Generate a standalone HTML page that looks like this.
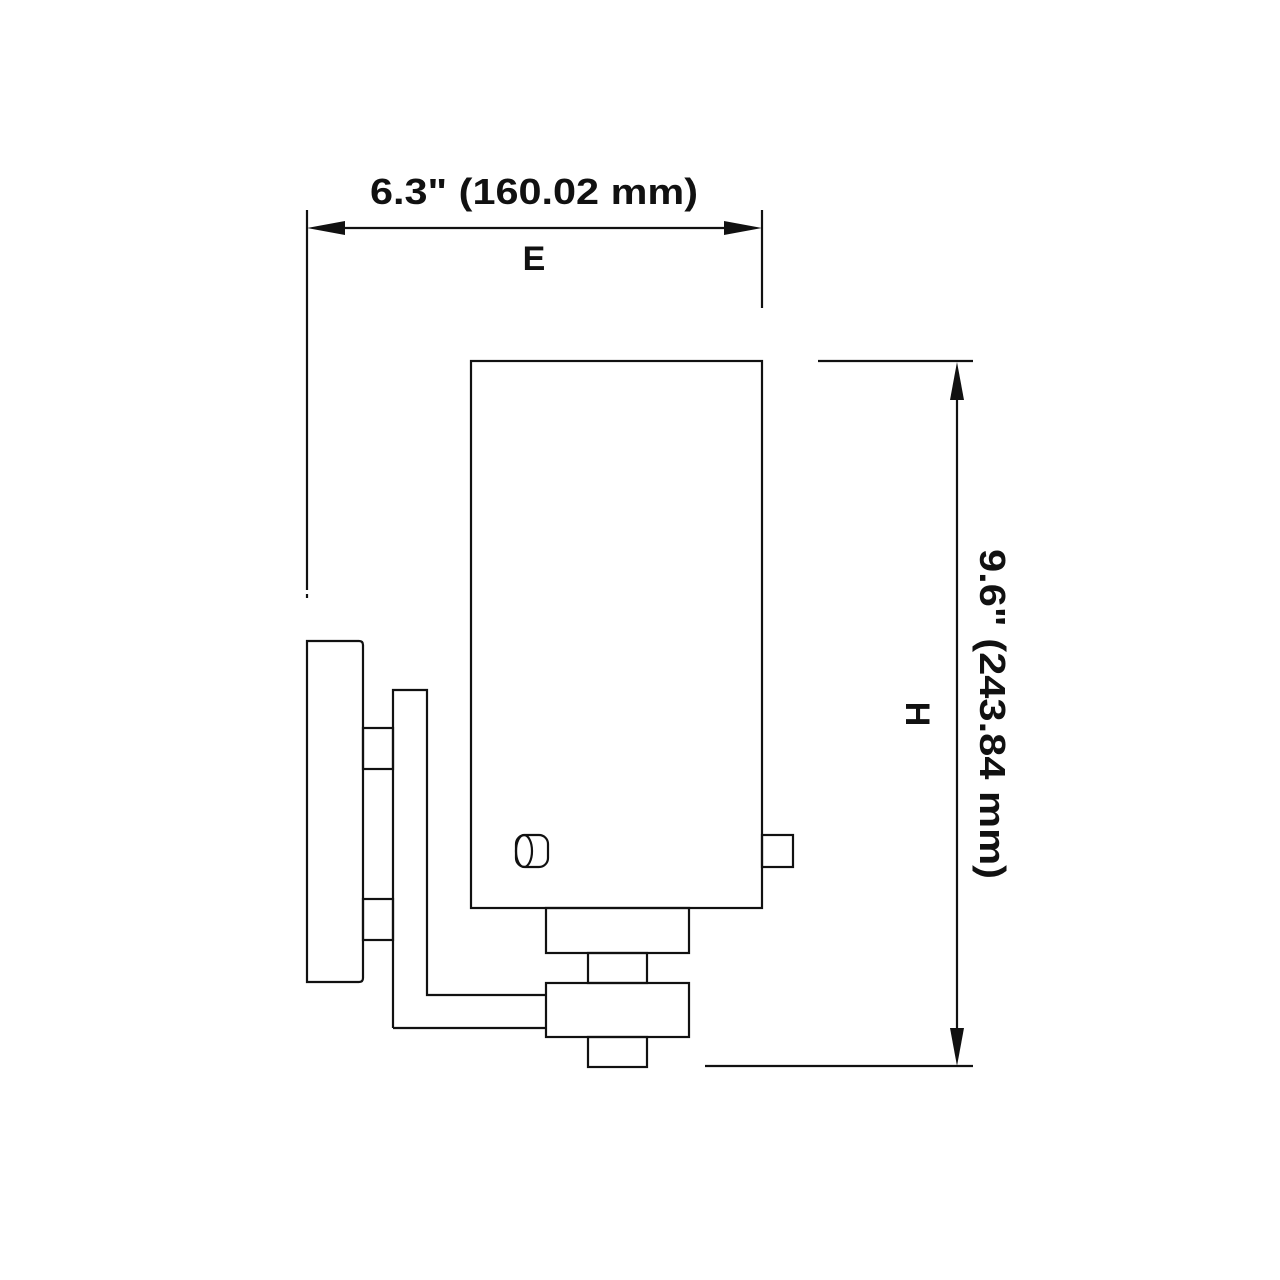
<!DOCTYPE html>
<html><head><style>body{margin:0;background:#fff}svg{display:block}</style></head><body>
<svg width="1280" height="1280" viewBox="0 0 1280 1280" xmlns="http://www.w3.org/2000/svg">
<g fill="none" stroke="#111" stroke-width="2.2">
<!-- dimension E -->
<line x1="307" y1="210" x2="307" y2="590"/>
<line x1="307" y1="594" x2="307" y2="598"/>
<line x1="762" y1="210" x2="762" y2="308"/>
<line x1="320" y1="228" x2="750" y2="228"/>
<!-- dimension H -->
<line x1="818" y1="361" x2="973" y2="361"/>
<line x1="705" y1="1066" x2="973" y2="1066"/>
<line x1="957" y1="380" x2="957" y2="1050"/>
<!-- shade -->
<rect x="471" y="361" width="291" height="547"/>
<rect x="762" y="835" width="31" height="32"/>
<!-- knob -->
<rect x="516" y="835" width="32" height="32" rx="9"/>
<ellipse cx="524" cy="851" rx="8" ry="16"/>
<!-- backplate -->
<path d="M307 641 H359 Q363 641 363 645 V978 Q363 982 359 982 H307 Z"/>
<rect x="363" y="728" width="30" height="41"/>
<rect x="363" y="899" width="30" height="41"/>
<!-- arm -->
<path d="M393 1028 V690 H427 V995 H546"/>
<line x1="393" y1="1028" x2="546" y2="1028"/>
<!-- blocks -->
<rect x="546" y="908" width="143" height="45"/>
<rect x="588" y="953" width="59" height="30"/>
<rect x="546" y="983" width="143" height="54"/>
<rect x="588" y="1037" width="59" height="30"/>
</g>
<g fill="#111">
<polygon points="307,228 345,221 345,235"/>
<polygon points="762,228 724,221 724,235"/>
<polygon points="957,362 950,400 964,400"/>
<polygon points="957,1066 950,1028 964,1028"/>
</g>
<g font-family="Liberation Sans, sans-serif" font-weight="bold" fill="#111">
<text x="534" y="204" font-size="36" text-anchor="middle" textLength="328" lengthAdjust="spacingAndGlyphs">6.3" (160.02 mm)</text>
<text x="534" y="270" font-size="34" text-anchor="middle">E</text>
<text transform="translate(980,714) rotate(90)" font-size="36" text-anchor="middle" textLength="330" lengthAdjust="spacingAndGlyphs">9.6" (243.84 mm)</text>
<text transform="translate(906,714) rotate(90)" font-size="34" text-anchor="middle">H</text>
</g>
</svg>
</body></html>
